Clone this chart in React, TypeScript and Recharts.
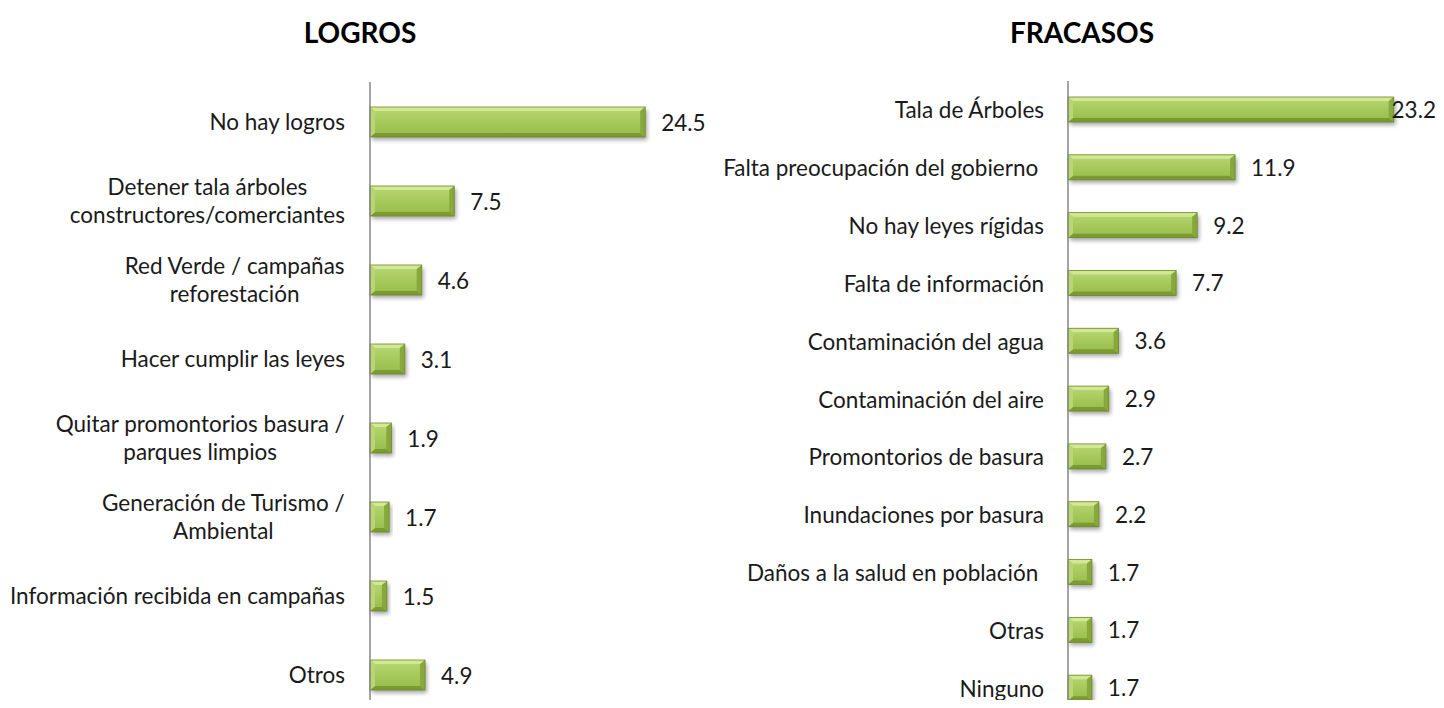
import React from 'react';
import { BarChart, Bar, XAxis, YAxis, LabelList } from 'recharts';

const logrosCategories = [
  'No hay logros',
  'Detener tala árboles\nconstructores/comerciantes',
  'Red Verde / campañas\nreforestación',
  'Hacer cumplir las leyes',
  'Quitar promontorios basura /\nparques limpios',
  'Generación de Turismo /\nAmbiental',
  'Información recibida en campañas',
  'Otros',
];
const logrosValues = [24.5, 7.5, 4.6, 3.1, 1.9, 1.7, 1.5, 4.9];

const fracasosCategories = [
  'Tala de Árboles',
  'Falta preocupación del gobierno ',
  'No hay leyes rígidas',
  'Falta de información',
  'Contaminación del agua',
  'Contaminación del aire',
  'Promontorios de basura',
  'Inundaciones por basura',
  'Daños a la salud en población ',
  'Otras',
  'Ninguno',
];
const fracasosValues = [23.2, 11.9, 9.2, 7.7, 3.6, 2.9, 2.7, 2.2, 1.7, 1.7, 1.7];

const FONT = 'Lato, "Liberation Sans", sans-serif';
const LABEL_SIZE = 22.5;

const logrosData = logrosCategories.map((name, i) => ({ name, value: logrosValues[i] }));
const fracasosData = fracasosCategories.map((name, i) => ({ name, value: fracasosValues[i] }));

let ctx: CanvasRenderingContext2D | null = null;
const measure = (text: string) => {
  if (!ctx) ctx = document.createElement('canvas').getContext('2d');
  if (!ctx) return text.length * LABEL_SIZE * 0.5;
  ctx.font = `${LABEL_SIZE}px ${FONT}`;
  return ctx.measureText(text).width;
};

const CategoryTick = (props: any) => {
  const { x, y, payload } = props;
  const lines: string[] = String(payload.value).split('\n');
  const lineHeight = 28;
  if (lines.length === 1) {
    return (
      <text x={x} y={y} textAnchor="end" dominantBaseline="central" fill="#1a1a1a"
        fontSize={LABEL_SIZE} fontFamily={FONT} style={{ whiteSpace: 'pre' }}>
        {lines[0]}
      </text>
    );
  }
  const maxW = Math.max(...lines.map(measure));
  const cx = x - maxW / 2;
  return (
    <g>
      {lines.map((line, i) => (
        <text key={i} x={cx} y={y + (i - (lines.length - 1) / 2) * lineHeight} textAnchor="middle"
          dominantBaseline="central" fill="#1a1a1a" fontSize={LABEL_SIZE} fontFamily={FONT}>
          {line}
        </text>
      ))}
    </g>
  );
};

// labels that would run past the chart edge are pulled back against the edge
const makeValueLabel = (limit: number) => (props: any) => {
  const { x, y, width, height, value } = props;
  const txt = Number(value).toFixed(1);
  const w = measure(txt) * 1.1;
  const end = x + width;
  const overflow = end + 16 + w > limit;
  return (
    <text x={overflow ? limit : end + 16} y={y + height / 2} dominantBaseline="central" fill="#1a1a1a"
      textAnchor={overflow ? 'end' : 'start'} fontSize={LABEL_SIZE} fontFamily={FONT}>
      {txt}
    </text>
  );
};

const BevelBar = (props: any) => {
  const { x, y, width, height } = props;
  if (!width || width <= 0) return null;
  const b = Math.min(5, width / 3);
  const bt = Math.min(4, height / 4);
  const x2 = x + width;
  const y2 = y + height;
  return (
    <g>
      <rect x={x} y={y} width={width} height={height} fill="#000" opacity={0.35} filter="url(#barShadow)" />
      <rect x={x} y={y} width={width} height={height} fill="url(#barFace)" />
      <polygon points={`${x},${y} ${x2},${y} ${x2 - b},${y + bt} ${x + b},${y + bt}`} fill="#d2e894" />
      <polygon points={`${x},${y2} ${x2},${y2} ${x2 - b},${y2 - bt} ${x + b},${y2 - bt}`} fill="#7b9b30" />
      <polygon points={`${x},${y} ${x + b},${y + bt} ${x + b},${y2 - bt} ${x},${y2}`} fill="#b9d672" />
      <polygon points={`${x2},${y} ${x2 - b},${y + bt} ${x2 - b},${y2 - bt} ${x2},${y2}`} fill="#88a83c" />
      <rect x={x} y={y} width={width} height={height} fill="none" stroke="#6b8a28" strokeWidth={0.8} />
    </g>
  );
};

const titleStyle: React.CSSProperties = {
  position: 'absolute',
  top: 16,
  textAlign: 'center',
  fontFamily: FONT,
  fontWeight: 'bold',
  fontSize: 28,
  lineHeight: '32px',
  color: '#000',
};

const App = () => {
  return (
    <div style={{ position: 'relative', width: 1444, height: 708, overflow: 'hidden', margin: -8, background: '#fff' }}>
      <svg width={0} height={0} style={{ position: 'absolute' }}>
        <defs>
          <filter id="barShadow" x="-20%" y="-50%" width="140%" height="200%">
            <feOffset dx={2} dy={3} />
            <feGaussianBlur stdDeviation={2} />
          </filter>
          <linearGradient id="barFace" x1="0" y1="0" x2="0" y2="1">
            <stop offset="0%" stopColor="#b9d874" />
            <stop offset="50%" stopColor="#a6c95c" />
            <stop offset="100%" stopColor="#96bb4a" />
          </linearGradient>
        </defs>
      </svg>

      <div style={{ ...titleStyle, left: 0, width: 720 }}>LOGROS</div>
      <div style={{ ...titleStyle, left: 720, width: 724 }}>FRACASOS</div>

      <div style={{ position: 'absolute', left: 0, top: 0 }}>
        <BarChart width={720} height={720} layout="vertical" data={logrosData}
          margin={{ top: 82, right: 13, bottom: 6, left: 0 }}>
          <XAxis type="number" domain={[0, 30]} hide />
          <YAxis type="category" dataKey="name" width={370} interval={0} tickLine={false}
            tickSize={0} tickMargin={25} axisLine={{ stroke: '#868686', strokeWidth: 1.5 }}
            tick={<CategoryTick />} />
          <Bar dataKey="value" barSize={30} shape={<BevelBar />} isAnimationActive={false}>
            <LabelList dataKey="value" content={makeValueLabel(716)} />
          </Bar>
        </BarChart>
      </div>

      <div style={{ position: 'absolute', left: 720, top: 0 }}>
        <BarChart width={724} height={720} layout="vertical" data={fracasosData}
          margin={{ top: 81, right: 25, bottom: 3, left: 0 }}>
          <XAxis type="number" domain={[0, 25]} hide />
          <YAxis type="category" dataKey="name" width={348} interval={0} tickLine={false}
            tickSize={0} tickMargin={24} axisLine={{ stroke: '#868686', strokeWidth: 1.5 }}
            tick={<CategoryTick />} />
          <Bar dataKey="value" barSize={25} shape={<BevelBar />} isAnimationActive={false}>
            <LabelList dataKey="value" content={makeValueLabel(716)} />
          </Bar>
        </BarChart>
      </div>
    </div>
  );
};

export default App;
